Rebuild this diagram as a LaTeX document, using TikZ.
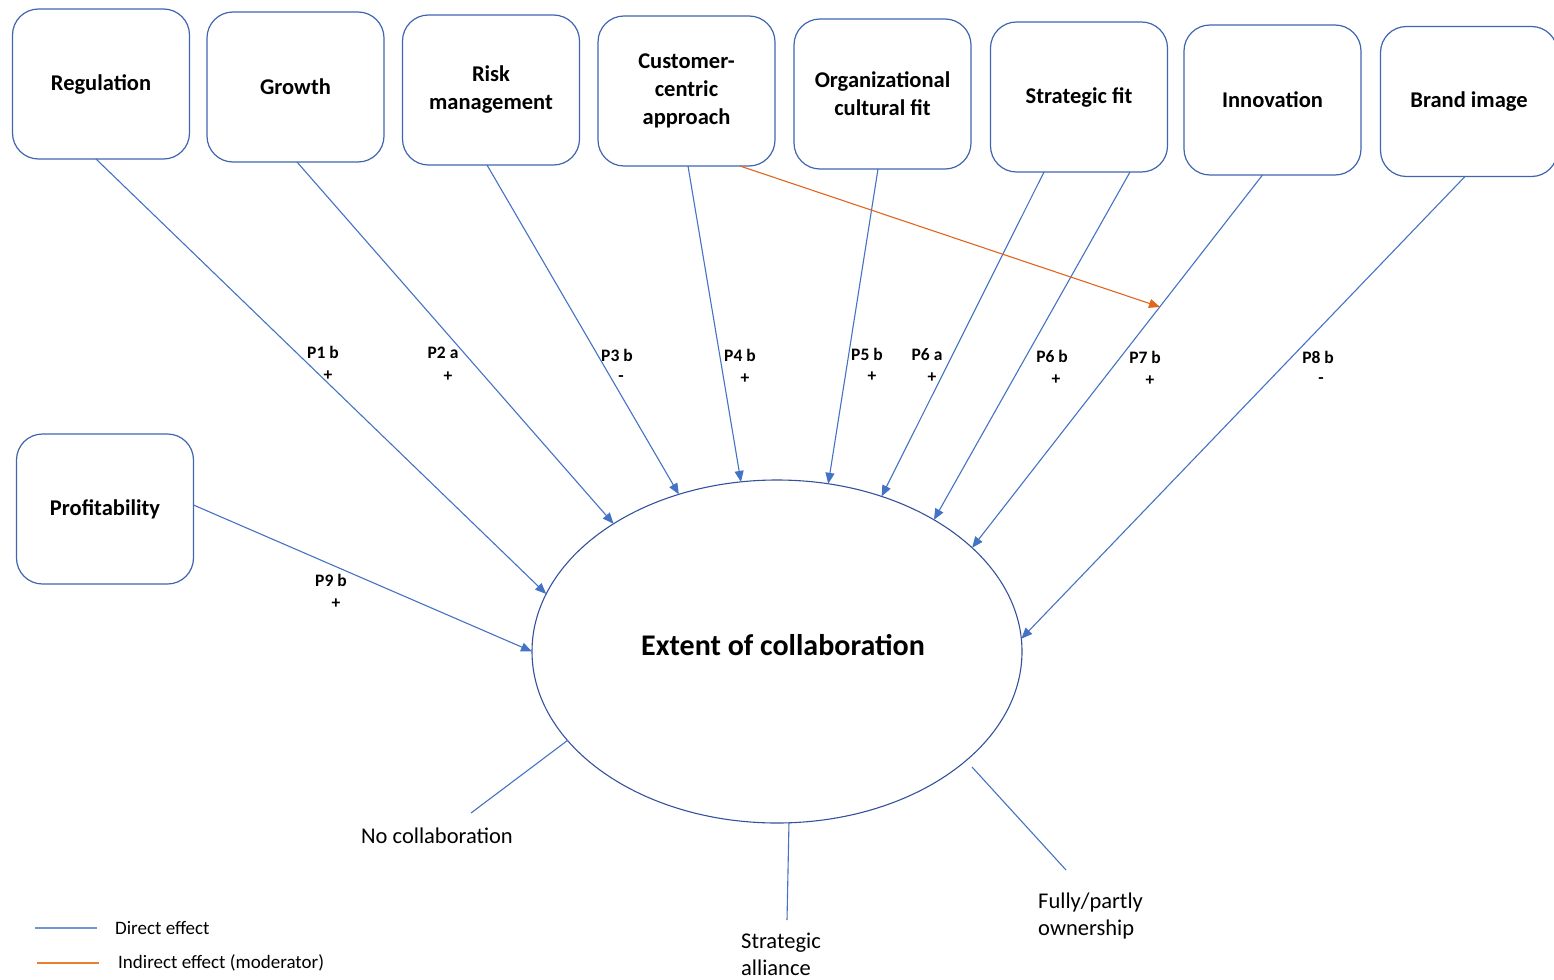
\documentclass[tikz,border=0pt]{standalone}
\usepackage{fontspec}
\setmainfont{Carlito}
\usetikzlibrary{arrows.meta,shapes.geometric}

\definecolor{lineblue}{RGB}{68,114,196}
\definecolor{boxblue}{RGB}{64,100,176}
\definecolor{ellblue}{RGB}{52,82,156}
\definecolor{modorange}{RGB}{224,102,30}
\definecolor{legblue}{RGB}{112,150,216}
\definecolor{legorange}{RGB}{237,125,49}

\begin{document}
\begin{tikzpicture}[x=1pt,y=-1pt,
  factor/.style={draw=boxblue, line width=1.2pt, rounded corners=26pt,
    minimum width=177pt, minimum height=150pt, inner sep=0pt, outer sep=0pt,
    align=center, font=\fontsize{22.5}{28}\selectfont\bfseries},
  effect/.style={draw=lineblue, line width=1.1pt, -{Triangle[length=11pt,width=9pt]}},
  moderator/.style={draw=modorange, line width=1.1pt, -{Triangle[length=11pt,width=9pt]}},
  outcome/.style={draw=lineblue, line width=1.1pt},
  plabel/.style={font=\fontsize{17.5}{20}\selectfont\bfseries, inner sep=0pt},
  caption/.style={font=\fontsize{22.5}{26.5}\selectfont, inner sep=0pt, align=left},
  legendtext/.style={font=\fontsize{19}{22}\selectfont, inner sep=0pt, anchor=west},
]
\useasboundingbox (0,0) rectangle (1554,979);

% determinants
\node[factor] (reg)   at (101,84)     {Regulation};
\node[factor] (gro)   at (295.5,87)   {Growth};
\node[factor] (risk)  at (491,90)     {Risk\\management};
\node[factor] (cust)  at (686.5,91)   {Customer-\\centric\\approach};
\node[factor] (org)   at (882.5,94)   {Organizational\\cultural fit};
\node[factor] (sfit)  at (1079,97)    {Strategic fit};
\node[factor] (inno)  at (1272.5,100) {Innovation};
\node[factor] (brand) at (1469,101.5) {Brand image};
\node[factor] (prof)  at (105,509)    {Profitability};

% outcome construct
\node[ellipse, draw=ellblue, line width=1.1pt, minimum width=490pt,
      minimum height=343pt, inner sep=0pt, outer sep=0pt] (ext) at (777,651.5) {};
\node[font=\fontsize{30}{34}\selectfont\bfseries, inner sep=0pt] (exttext) at (783,645) {Extent of collaboration};

% direct effects
\draw[effect] ([xshift=-5pt]reg.south)   -- (ext.166);
\draw[effect] ([xshift=1.5pt]gro.south)  -- (ext.142);
\draw[effect] ([xshift=-4pt]risk.south)  -- (ext.122);
\draw[effect] ([xshift=1.5pt]cust.south) -- (ext.102);
\draw[effect] ([xshift=-4.5pt]org.south) -- (ext.73);
\draw[effect] ([xshift=-35pt]sfit.south) -- (ext.56.5);
\draw[effect] ([xshift=51pt]sfit.south)  -- (ext.40);
\draw[effect] ([xshift=-10pt]inno.south) -- (ext.28);
\draw[effect] ([xshift=-4pt]brand.south) -- (ext.3.4);
\draw[effect] ([yshift=4pt]prof.east)    -- (ext.180);

% moderating effect
\coordinate (modend) at (1160,307);
\draw[moderator] ([xshift=53.5pt]cust.south) -- (modend);

% proposition labels
\node[plabel] (p1)  at (323,352)  {P1 b};  \node[plabel] (s1)  at (328,376)  {+};
\node[plabel] (p2)  at (443,353)  {P2 a};  \node[plabel] (s2)  at (448,377)  {+};
\node[plabel] (p3)  at (617,355)  {P3 b};  \node[plabel] (s3)  at (621,379)  {-};
\node[plabel] (p4)  at (740,355)  {P4 b};  \node[plabel] (s4)  at (745,379)  {+};
\node[plabel] (p5)  at (867,354)  {P5 b};  \node[plabel] (s5)  at (872,377)  {+};
\node[plabel] (p6a) at (927,355)  {P6 a};  \node[plabel] (s6a) at (932,378)  {+};
\node[plabel] (p6b) at (1052,356) {P6 b};  \node[plabel] (s6b) at (1056,380) {+};
\node[plabel] (p7)  at (1145,357) {P7 b};  \node[plabel] (s7)  at (1150,381) {+};
\node[plabel] (p8)  at (1318,357) {P8 b};  \node[plabel] (s8)  at (1321,381) {-};
\node[plabel] (p9)  at (331,580)  {P9 b};  \node[plabel] (s9)  at (336,604)  {+};

% forms of collaboration
\coordinate (nocolend) at (471,813);
\coordinate (allend)   at (787,920);
\coordinate (ownstart) at (972,767);
\coordinate (ownend)   at (1066,870);
\draw[outcome] (ext.203) -- (nocolend);
\draw[outcome] (ext.274) -- (allend);
\draw[outcome] (ownstart) -- (ownend);
\node[caption, anchor=base] (nocol) at (437,843) {No collaboration};
\node[caption, anchor=base west] (alliance) at (741,975) {Strategic\\alliance};
\node[caption, anchor=base west] (owner) at (1038,935) {Fully/partly\\ownership};

% legend
\coordinate (la1) at (35,928);
\coordinate (la2) at (97,928);
\coordinate (lb1) at (37,963);
\coordinate (lb2) at (99,963);
\draw[draw=legblue, line width=1.2pt] (la1) -- (la2);
\draw[draw=legorange, line width=1.2pt] (lb1) -- (lb2);
\node[legendtext] (ldirect) at (115,928) {Direct effect};
\node[legendtext] (lindirect) at (118,963) {Indirect effect (moderator)};
\end{tikzpicture}
\end{document}
